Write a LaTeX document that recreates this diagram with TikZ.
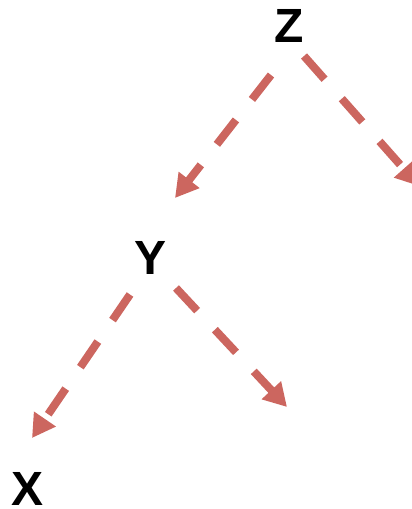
\documentclass[tikz,border=0pt]{standalone}
\usepackage{fontspec}
\setmainfont{Liberation Sans}
\usetikzlibrary{arrows.meta,calc}
\definecolor{rojizo}{HTML}{CC665F}

\begin{document}
\begin{tikzpicture}[x=1pt,y=-1pt,
    var/.style={font=\fontsize{48}{48}\selectfont\bfseries,inner sep=0pt},
    flecha/.style={rojizo,line width=8pt,dash pattern=on 31pt off 26pt,-{Triangle[length=23pt,width=25pt]}}]
    \useasboundingbox (0,0) rectangle (412,509);
    \clip (0,0) rectangle (412,509);
    % variables
    \node[var] (Z) at (289.5,25.5) {Z};
    \node[var] (Y) at (151,257.5) {Y};
    \node[var] (X) at (27.5,489) {X};
    % extremos libres
    \coordinate (zfin) at (419,186);
    \coordinate (yfin) at (287,407);
    % aristas
    \draw[flecha] ($(Z)+(-18.5,49.5)$) -- ($(Y)+(24,-59.5)$);
    \draw[flecha] ($(Z)+(14.5,30.5)$) -- (zfin);
    \draw[flecha] ($(Y)+(-21,37)$) -- ($(X)+(4.5,-51)$);
    \draw[flecha] ($(Y)+(25,30.5)$) -- (yfin);
\end{tikzpicture}
\end{document}
